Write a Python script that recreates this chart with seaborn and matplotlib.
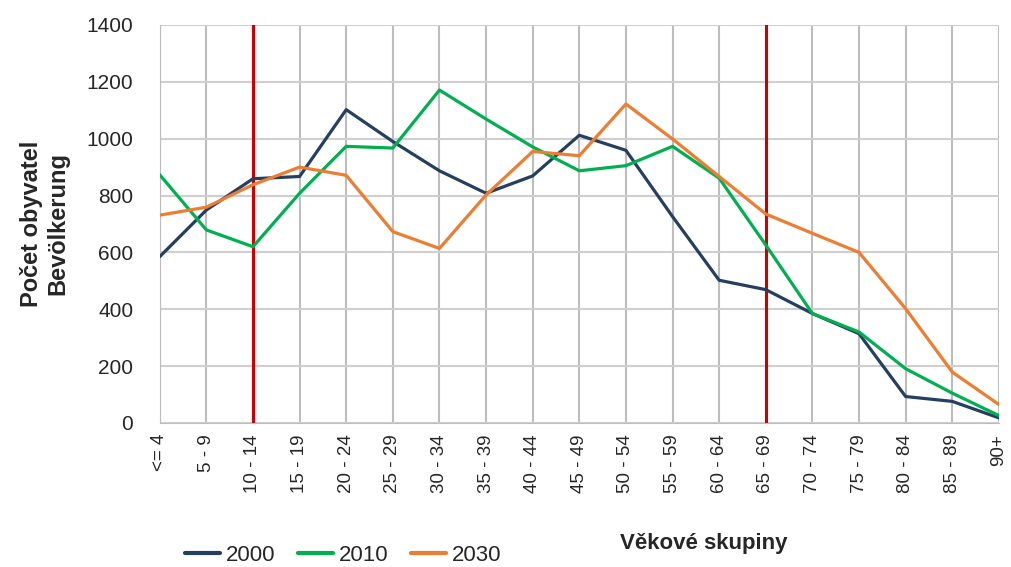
import pandas as pd
import matplotlib
matplotlib.use('Agg')
import matplotlib.pyplot as plt
import seaborn as sns

# Daten
vekove_skupiny = ['<= 4', '5 - 9', '10 - 14', '15 - 19', '20 - 24', '25 - 29', '30 - 34',
                  '35 - 39', '40 - 44', '45 - 49', '50 - 54', '55 - 59', '60 - 64',
                  '65 - 69', '70 - 74', '75 - 79', '80 - 84', '85 - 89', '90+']
rok_2000 = [585, 749, 859, 867, 1102, 990, 887, 808, 869, 1012, 959, 726, 502,
            469, 385, 314, 93, 76, 18]
rok_2010 = [873, 679, 620, 808, 973, 967, 1171, 1069, 971, 887, 905, 973, 861,
            626, 385, 320, 191, 105, 26]
rok_2030 = [731, 759, 838, 900, 871, 673, 614, 802, 955, 940, 1122, 999, 867,
            735, 667, 600, 402, 179, 65]
cervene_skupiny = ['10 - 14', '65 - 69']
barvy = {'2000': '#243F60', '2010': '#00B050', '2030': '#ED7D31'}

df = pd.DataFrame({'skupina': vekove_skupiny * 3,
                   'pozice': list(range(len(vekove_skupiny))) * 3,
                   'rok': ['2000'] * 19 + ['2010'] * 19 + ['2030'] * 19,
                   'pocet': rok_2000 + rok_2010 + rok_2030})

sns.set_style('white')
plt.rcParams['font.family'] = ['Liberation Sans', 'DejaVu Sans']
plt.rcParams['text.color'] = '#262626'
plt.rcParams['xtick.color'] = '#262626'
plt.rcParams['ytick.color'] = '#262626'

fig = plt.figure(figsize=(10.11, 5.67), dpi=100)
ax = fig.add_axes([0.158, 0.254, 0.830, 0.702])

# Gitter
for i in range(len(vekove_skupiny)):
    ax.axvline(i, color='#BDBDBD', lw=1.5, zorder=0)
for y in range(0, 1401, 200):
    ax.axhline(y, color='#CFCFCF', lw=1.5, zorder=0)

for s in cervene_skupiny:
    ax.axvline(vekove_skupiny.index(s), color='#CC0000', lw=2.2, zorder=1)

sns.lineplot(data=df, x='pozice', y='pocet', hue='rok', palette=barvy,
             lw=2.3, ax=ax, zorder=3, legend=False)

ax.set_xlim(0, 18)
ax.set_ylim(0, 1400)
ax.set_yticks(range(0, 1401, 200))
ax.set_xticks(range(len(vekove_skupiny)))
ax.set_xticklabels(vekove_skupiny, rotation=90, ha='center', fontsize=13.5)
ax.tick_params(axis='y', labelsize=15, length=5, color='#BDBDBD', pad=14)
ax.tick_params(axis='x', length=0, pad=8)
for sp in ax.spines.values():
    sp.set_color('#BDBDBD')
ax.spines['top'].set_visible(False)
ax.spines['right'].set_visible(False)

ax.set_xlabel('')
ax.set_ylabel('Počet obyvatel\nBevölkerung', fontsize=17, fontweight='bold', labelpad=12)
fig.text(0.613, 0.042, 'Věkové skupiny', fontsize=16, fontweight='bold', ha='left', va='center')

handles = [plt.Line2D([], [], color=barvy[r], lw=3) for r in ['2000', '2010', '2030']]
fig.legend(handles, ['2000', '2010', '2030'], loc='center left', bbox_to_anchor=(0.163, 0.02),
           ncol=3, frameon=False, fontsize=16, handlelength=1.6, handletextpad=0.25,
           columnspacing=1.0)

fig.savefig('out.png', dpi=100)
